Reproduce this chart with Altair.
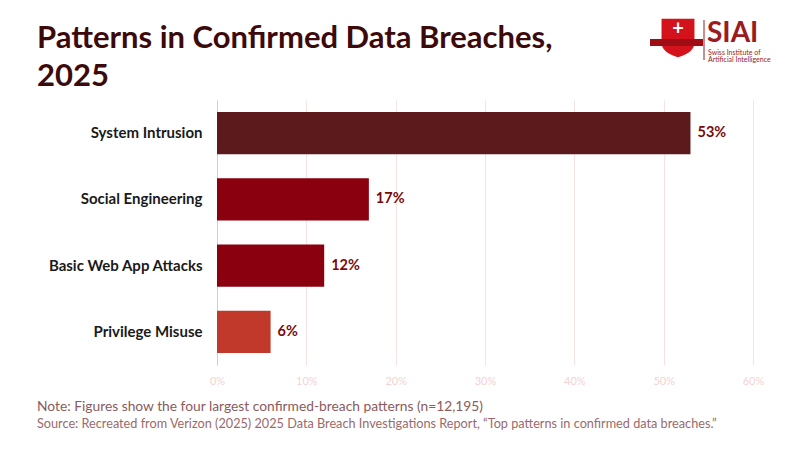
import altair as alt
import pandas as pd

categories = ["System Intrusion", "Social Engineering", "Basic Web App Attacks", "Privilege Misuse"]
values = [53, 17, 12, 6]
colors = ["#5c1a1d", "#8b000f", "#8b000f", "#c0392b"]
labels = ["53%", "17%", "12%", "6%"]
x_ticks = [0, 10, 20, 30, 40, 50, 60]

title_lines = ["Patterns in Confirmed Data Breaches,", "2025"]
note = "Note: Figures show the four largest confirmed-breach patterns (n=12,195)"
source = "Source: Recreated from Verizon (2025) 2025 Data Breach Investigations Report, \u201cTop patterns in confirmed data breaches.\u201d"

FONT = "Lato"

df = pd.DataFrame({"cat": categories, "val": values, "color": colors, "label": labels})

W, H = 536, 265

xscale = alt.Scale(domain=[0, 60], nice=False)
yscale = alt.Scale(domain=categories, paddingInner=0.36, paddingOuter=0.18)

bars = alt.Chart(df).mark_bar().encode(
    x=alt.X("val:Q", scale=xscale,
            axis=alt.Axis(values=x_ticks, labelExpr="datum.value + '%'", title=None,
                          grid=True, gridColor="#f7e2e2", domain=False, ticks=False,
                          labelColor="#f3d3d3", labelFontSize=11, labelPadding=10,
                          labelFlush=False, labelFont=FONT)),
    y=alt.Y("cat:N", scale=yscale, sort=categories,
            axis=alt.Axis(title=None, ticks=False, domain=True, domainColor="#d0d0d0",
                          labelFontSize=15, labelFontWeight="bold", labelColor="#1a1a1a",
                          labelPadding=15, labelFont=FONT)),
    color=alt.Color("color:N", scale=None),
)

vlabels = alt.Chart(df).mark_text(align="left", baseline="middle", dx=7, fontSize=14.5,
                                  fontWeight="bold", color="#7a0a0a", font=FONT).encode(
    x=alt.X("val:Q", scale=xscale), y=alt.Y("cat:N", scale=yscale, sort=categories),
    text="label:N")

OX, OY = 217, 100  # plot origin on page


def txt(s, x, y, size, color, weight="normal", align="left", baseline="alphabetic"):
    return alt.Chart(pd.DataFrame({"t": [s]})).mark_text(
        align=align, baseline=baseline, fontSize=size, fontWeight=weight, color=color, font=FONT
    ).encode(text="t:N", x=alt.value(x - OX), y=alt.value(y - OY))


t1 = txt(title_lines[0], 37, 48, 31, "#3d0a0b", "bold")
t2 = txt(title_lines[1], 37, 86, 31, "#3d0a0b", "bold")
n1 = txt(note, 37, 411, 13.8, "#8a5a5c")
n2 = txt(source, 37, 428, 12.7, "#9a6a6c")

# logo
one = pd.DataFrame({"a": [0]})
shield_path = "M -0.85 -1 L 0.85 -1 L 0.85 0.25 Q 0.85 0.75 0 1 Q -0.85 0.75 -0.85 0.25 Z"
shield = alt.Chart(one).mark_point(shape=shield_path, filled=True, color="#d3121c", size=1500,
                                    opacity=1).encode(x=alt.value(678 - OX), y=alt.value(38 - OY))
ribbon = alt.Chart(one).mark_rect(color="#9e0d14").encode(
    x=alt.value(650 - OX), x2=alt.value(703 - OX), y=alt.value(39 - OY), y2=alt.value(46 - OY))
cross = txt("+", 678, 29, 20, "white", "bold", align="center", baseline="middle")
vline = alt.Chart(one).mark_rule(color="#9b1b1f", strokeWidth=1).encode(
    x=alt.value(704 - OX), y=alt.value(20 - OY), y2=alt.value(60 - OY))
siai = txt("SIAI", 707, 42, 28, "#9b1b1f", "bold")
sw1 = txt("Swiss Institute of", 708, 55, 7, "#9b1b1f")
sw2 = txt("Artificial Intelligence", 708, 62, 7, "#9b1b1f")

chart = alt.layer(bars, vlabels, t1, t2, n1, n2, shield, ribbon, cross, vline, siai, sw1, sw2).properties(
    width=W, height=H,
    autosize=alt.AutoSizeParams(type="none"),
    padding={"left": OX - 8, "top": OY - 8, "right": 800 - 16 - (OX - 8) - W, "bottom": 450 - 16 - (OY - 8) - H},
    background="white",
).configure_view(stroke=None)

chart.save("out.html", embed_options={"renderer": "svg", "actions": False})
